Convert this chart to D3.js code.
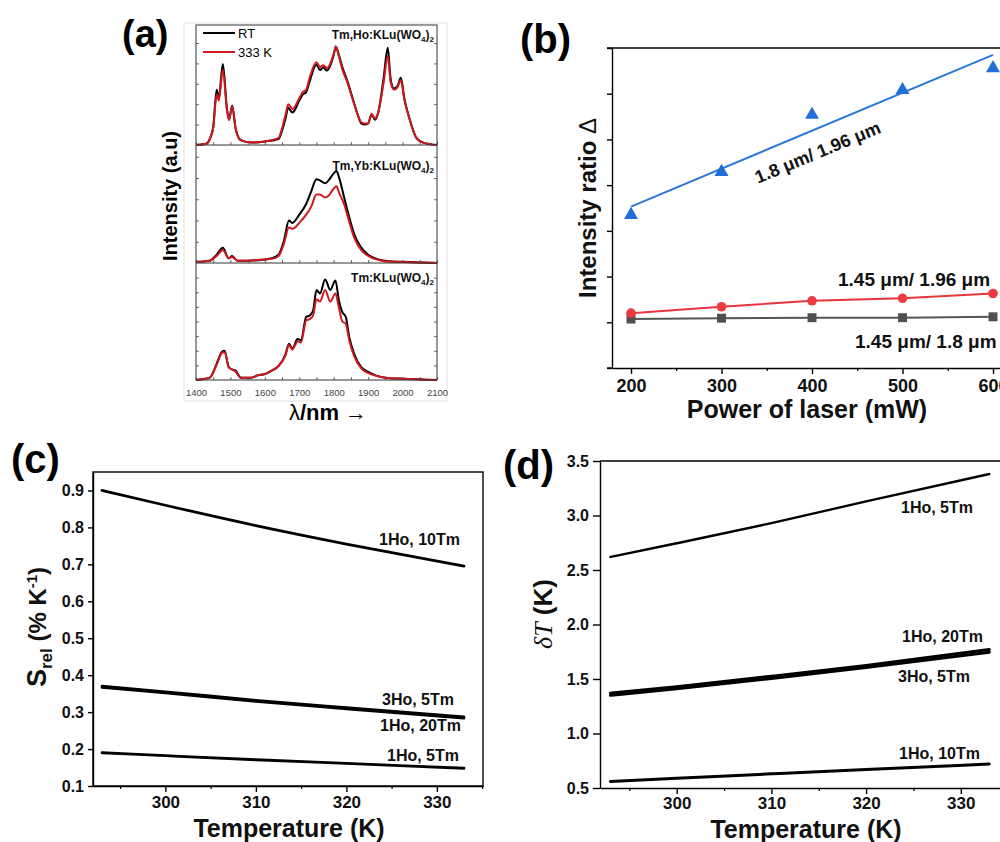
<!DOCTYPE html>
<html><head><meta charset="utf-8">
<script src="https://cdn.jsdelivr.net/npm/d3@7"></script>
<style>
body{margin:0;background:#fff}
svg{display:block}
text{font-family:"Liberation Sans",Arial,Helvetica,sans-serif}
</style>
</head><body>
<script>
// ---------------- DATA ----------------
// (a) emission spectra, normalised intensity per sub-panel
const wlHo = [1400,1430,1440,1450,1460,1466,1478,1490,1496,1505,1515,1530,1560,1600,1640,1650,1660,1668,1680,1700,1710,1720,1730,1750,1760,1770,1780,1800,1806,1815,1825,1840,1855,1870,1880,1890,1900,1910,1920,1930,1945,1957,1965,1975,1985,1995,2005,2020,2040,2060,2100];
const hoRT  = [0.0,0.01,0.05,0.15,0.46,0.39,0.675,0.30,0.21,0.33,0.14,0.04,0.02,0.03,0.05,0.12,0.22,0.31,0.27,0.37,0.42,0.44,0.53,0.67,0.625,0.645,0.62,0.75,0.82,0.75,0.65,0.53,0.39,0.25,0.18,0.17,0.18,0.25,0.21,0.28,0.56,0.81,0.56,0.47,0.49,0.56,0.39,0.22,0.06,0.02,0.0];
const ho333 = [0.0,0.01,0.05,0.14,0.42,0.37,0.625,0.29,0.21,0.32,0.14,0.04,0.02,0.03,0.06,0.14,0.25,0.34,0.30,0.39,0.44,0.46,0.56,0.69,0.65,0.665,0.64,0.76,0.82,0.74,0.63,0.52,0.38,0.25,0.19,0.18,0.18,0.26,0.22,0.28,0.52,0.74,0.53,0.46,0.48,0.54,0.38,0.22,0.06,0.02,0.0];

const wlYb = [1400,1440,1460,1478,1495,1505,1520,1550,1600,1620,1640,1655,1670,1680,1700,1720,1735,1750,1760,1775,1785,1800,1808,1815,1830,1845,1860,1880,1900,1930,1960,2000,2050,2100];
const ybRT  = [0.01,0.02,0.07,0.13,0.04,0.06,0.02,0.02,0.03,0.04,0.07,0.185,0.36,0.34,0.41,0.50,0.61,0.71,0.70,0.675,0.70,0.76,0.78,0.73,0.56,0.39,0.24,0.13,0.07,0.03,0.015,0.01,0.005,0.0];
const yb333 = [0.01,0.02,0.06,0.11,0.04,0.05,0.02,0.02,0.03,0.035,0.06,0.16,0.30,0.29,0.34,0.41,0.48,0.58,0.58,0.555,0.57,0.63,0.65,0.60,0.50,0.35,0.21,0.11,0.06,0.025,0.012,0.008,0.004,0.0];

const wlTm = [1400,1440,1460,1475,1483,1495,1505,1515,1530,1560,1580,1600,1620,1640,1660,1670,1680,1695,1705,1720,1730,1740,1750,1760,1775,1790,1805,1815,1825,1835,1845,1860,1880,1900,1950,2000,2100];
const tmRT  = [0,0.02,0.14,0.24,0.25,0.11,0.09,0.08,0.02,0.02,0.04,0.05,0.08,0.12,0.22,0.31,0.27,0.35,0.34,0.54,0.55,0.59,0.77,0.74,0.86,0.77,0.85,0.68,0.58,0.54,0.37,0.22,0.11,0.07,0.02,0.01,0];
const tm333 = [0,0.02,0.13,0.23,0.24,0.11,0.09,0.07,0.02,0.02,0.04,0.05,0.08,0.12,0.21,0.30,0.26,0.33,0.32,0.51,0.52,0.55,0.69,0.67,0.77,0.67,0.74,0.62,0.50,0.48,0.34,0.20,0.10,0.06,0.02,0.01,0];
const wlTicks = [1400,1500,1600,1700,1800,1900,2000,2100];

// (b) intensity ratio vs laser power
const power = [200,300,400,500,600];
const ratio18_196  = [3.35,4.29,5.54,6.08,6.56];
const fitPower = [200,600];
const fit18_196 = [3.53,6.85];
const ratio145_196 = [1.20,1.34,1.47,1.525,1.63];
const ratio145_18  = [1.07,1.09,1.10,1.10,1.12];
const powerTicks = [200,300,400,500,600];

// (c) relative sensitivity vs temperature
const temp = [293,300,310,320,333];
const s_1Ho10Tm = [0.90,0.86,0.805,0.755,0.695];
const s_3Ho5Tm  = [0.37,0.355,0.332,0.312,0.287];
const s_1Ho20Tm = [0.367,0.352,0.329,0.309,0.284];
const s_1Ho5Tm  = [0.19,0.182,0.171,0.161,0.148];
const sTicks = [0.1,0.2,0.3,0.4,0.5,0.6,0.7,0.8,0.9];
const tTicks = [300,310,320,330];

// (d) temperature resolution vs temperature
const dT_1Ho5Tm  = [2.62,2.745,2.93,3.13,3.38];
const dT_1Ho20Tm = [1.37,1.43,1.525,1.625,1.77];
const dT_3Ho5Tm  = [1.35,1.41,1.505,1.605,1.745];
const dT_1Ho10Tm = [0.56,0.59,0.63,0.67,0.72];
const dTicks = [0.5,1.0,1.5,2.0,2.5,3.0,3.5];

// ---------------- DRAW ----------------
const svg = d3.select("body").append("svg").attr("width",1000).attr("height",842);
const zip = (xs, ys) => xs.map((x,i)=>[x,ys[i]]);

function styleAxis(g, fs){
  g.select(".domain").attr("stroke","#000").attr("stroke-width",1.4);
  g.selectAll(".tick line").attr("stroke","#000").attr("stroke-width",1.4);
  g.selectAll(".tick text").attr("font-size",fs).attr("font-weight","bold").attr("fill","#111")
    .attr("font-family","'Liberation Sans',Arial,sans-serif");
}

// ===== Panel (a) =====
(function(){
  const x = d3.scaleLinear().domain([1400,2100]).range([196,437]);
  svg.append("rect").attr("x",184).attr("y",23).attr("width",263).attr("height",378)
    .attr("fill","none").attr("stroke","#e2e2e2").attr("stroke-width",1);
  const subs = [
    {top:25, bot:145, wl:wlHo, rt:hoRT, hot:ho333, ticks:[0.17,0.34,0.51,0.68,0.85], name:"Tm,Ho:KLu(WO", ly:39},
    {top:145, bot:263, wl:wlYb, rt:ybRT, hot:yb333, ticks:[0.18,0.36,0.54,0.72,0.90], name:"Tm,Yb:KLu(WO", ly:170},
    {top:263, bot:380, wl:wlTm, rt:tmRT, hot:tm333, ticks:[0.125,0.25,0.375,0.5,0.625,0.75,0.875], name:"Tm:KLu(WO", ly:282}
  ];
  subs.forEach(s=>{
    const y = d3.scaleLinear().domain([0,1]).range([s.bot,s.top]);
    const gl = svg.append("g").attr("transform","translate(196,0)")
      .call(d3.axisLeft(y).tickValues(s.ticks).tickSize(-3).tickFormat(""));
    gl.select(".domain").remove();
    gl.selectAll(".tick line").attr("stroke","#444").attr("stroke-width",0.8);
    const gr = svg.append("g").attr("transform","translate(437,0)")
      .call(d3.axisRight(y).tickValues(s.ticks).tickSize(-3).tickFormat(""));
    gr.select(".domain").remove();
    gr.selectAll(".tick line").attr("stroke","#444").attr("stroke-width",0.8);
    const gb = svg.append("g").attr("transform",`translate(0,${s.bot})`)
      .call(d3.axisBottom(x).ticks(14).tickSize(-3).tickFormat(""));
    gb.select(".domain").remove();
    gb.selectAll(".tick line").attr("stroke","#444").attr("stroke-width",0.8);
    const line = d3.line().x(d=>x(d[0])).y(d=>y(d[1])).curve(d3.curveMonotoneX);
    svg.append("path").datum(zip(s.wl,s.rt)).attr("d",line)
      .attr("fill","none").attr("stroke","#000").attr("stroke-width",2);
    svg.append("path").datum(zip(s.wl,s.hot)).attr("d",line)
      .attr("fill","none").attr("stroke","#d0181f").attr("stroke-width",2);
    const t = svg.append("text").attr("x",434).attr("y",s.ly).attr("text-anchor","end")
      .attr("font-size",12).attr("font-weight","bold").attr("fill","#111");
    t.append("tspan").text(s.name);
    t.append("tspan").attr("font-size",8).attr("dy",3).text("4");
    t.append("tspan").attr("dy",-3).text(")");
    t.append("tspan").attr("font-size",8).attr("dy",3).text("2");
  });
  svg.append("rect").attr("x",196).attr("y",25).attr("width",241).attr("height",355)
    .attr("fill","none").attr("stroke","#333").attr("stroke-width",1);
  svg.append("line").attr("x1",196).attr("x2",437).attr("y1",145).attr("y2",145).attr("stroke","#333");
  svg.append("line").attr("x1",196).attr("x2",437).attr("y1",263).attr("y2",263).attr("stroke","#333");
  const gx = svg.append("g").attr("transform","translate(0,380)")
    .call(d3.axisBottom(x).tickValues(wlTicks).tickSize(0).tickPadding(9).tickFormat(d3.format("d")));
  gx.select(".domain").remove();
  gx.selectAll(".tick text").attr("font-size",9.5).attr("fill","#444");
  svg.append("line").attr("x1",203).attr("x2",235).attr("y1",33).attr("y2",33).attr("stroke","#000").attr("stroke-width",2);
  svg.append("line").attr("x1",203).attr("x2",235).attr("y1",52).attr("y2",52).attr("stroke","#d0181f").attr("stroke-width",2);
  svg.append("text").attr("x",238).attr("y",38).attr("font-size",13).text("RT");
  svg.append("text").attr("x",238).attr("y",57).attr("font-size",13).text("333 K");
  svg.append("text").attr("transform","translate(177,196) rotate(-90)").attr("text-anchor","middle")
    .attr("font-size",20).attr("font-weight","bold").text("Intensity (a.u)");
  const xt = svg.append("text").attr("x",328).attr("y",420).attr("text-anchor","middle")
    .attr("font-size",22).attr("font-weight","bold");
  xt.append("tspan").attr("font-weight","normal").text("λ");
  xt.append("tspan").text("/nm ");
  xt.append("tspan").attr("font-weight","normal").text("→");
  svg.append("text").attr("x",122).attr("y",47).attr("font-size",38).attr("font-weight","bold").text("(a)");
})();

// ===== Panel (b) =====
(function(){
  const x = d3.scaleLinear().domain([179,640]).range([612,612+461*0.905]);
  const y = d3.scaleLinear().domain([0,7]).range([368,48]);
  const gy = svg.append("g").attr("transform","translate(612,0)")
    .call(d3.axisLeft(y).tickValues(d3.range(0,8)).tickSize(5).tickSizeOuter(0).tickFormat(""));
  styleAxis(gy,16);
  const gx = svg.append("g").attr("transform","translate(0,368)")
    .call(d3.axisBottom(x).tickValues(powerTicks).tickSize(6).tickSizeOuter(0).tickPadding(5));
  styleAxis(gx,18);
  const gm = svg.append("g").attr("transform","translate(0,368)")
    .call(d3.axisBottom(x).tickValues([250,350,450,550]).tickSize(3).tickSizeOuter(0).tickFormat(""));
  gm.select(".domain").remove();
  gm.selectAll(".tick line").attr("stroke","#000").attr("stroke-width",1.2);
  svg.append("line").attr("x1",607).attr("x2",1000).attr("y1",48).attr("y2",48).attr("stroke","#000").attr("stroke-width",1.4);
  svg.append("line").attr("x1",607).attr("x2",612).attr("y1",368).attr("y2",368).attr("stroke","#000").attr("stroke-width",1.4);

  const line = d3.line().x(d=>x(d[0])).y(d=>y(d[1]));
  svg.append("path").datum(zip(power,ratio145_18)).attr("d",line).attr("fill","none").attr("stroke","#555").attr("stroke-width",2);
  svg.selectAll(".sq").data(zip(power,ratio145_18)).join("path")
    .attr("transform",d=>`translate(${x(d[0])},${y(d[1])})`)
    .attr("d",d3.symbol(d3.symbolSquare).size(80)).attr("fill","#505050");
  svg.append("path").datum(zip(power,ratio145_196)).attr("d",line).attr("fill","none").attr("stroke","#e8353b").attr("stroke-width",2);
  svg.selectAll(".ci").data(zip(power,ratio145_196)).join("circle")
    .attr("cx",d=>x(d[0])).attr("cy",d=>y(d[1])).attr("r",4.8).attr("fill","#ec3a40");
  svg.append("path").datum(zip(fitPower,fit18_196)).attr("d",line).attr("fill","none").attr("stroke","#2a78da").attr("stroke-width",2);
  svg.selectAll(".tr").data(zip(power,ratio18_196)).join("path")
    .attr("transform",d=>`translate(${x(d[0])},${y(d[1])})`)
    .attr("d",d3.symbol(d3.symbolTriangle).size(85)).attr("fill","#1f6fd6");

  svg.append("text").attr("transform","translate(820,158) rotate(-22.5)").attr("text-anchor","middle")
    .attr("font-size",18).attr("font-weight","bold").attr("fill","#111").text("1.8 μm/ 1.96 μm");
  svg.append("text").attr("x",838).attr("y",286).attr("font-size",19).attr("font-weight","bold").attr("fill","#111").text("1.45 μm/ 1.96 μm");
  svg.append("text").attr("x",855).attr("y",348).attr("font-size",19).attr("font-weight","bold").attr("fill","#111").text("1.45 μm/ 1.8 μm");

  svg.append("text").attr("x",807).attr("y",418).attr("text-anchor","middle")
    .attr("font-size",25).attr("font-weight","bold").attr("fill","#111").text("Power of laser (mW)");
  const yt = svg.append("text").attr("transform","translate(596,208) rotate(-90)").attr("text-anchor","middle")
    .attr("font-size",24).attr("font-weight","bold").attr("fill","#111");
  yt.append("tspan").text("Intensity ratio  ");
  yt.append("tspan").attr("font-weight","normal").text("Δ");
  svg.append("text").attr("x",520).attr("y",53).attr("font-size",40).attr("font-weight","bold").text("(b)");
})();

// ===== Panel (c) =====
(function(){
  const x = d3.scaleLinear().domain([292,335.1]).range([93,483]);
  const y = d3.scaleLinear().domain([0.1,0.95]).range([786,472]);
  svg.append("rect").attr("x",93).attr("y",472).attr("width",390).attr("height",314)
    .attr("fill","none").attr("stroke","#000").attr("stroke-width",1.4);
  const gy = svg.append("g").attr("transform","translate(93,0)")
    .call(d3.axisLeft(y).tickValues(sTicks).tickSize(5).tickSizeOuter(0).tickPadding(4).tickFormat(d3.format(".1f")));
  styleAxis(gy,16);
  const gx = svg.append("g").attr("transform","translate(0,786)")
    .call(d3.axisBottom(x).tickValues(tTicks).tickSize(6).tickSizeOuter(0).tickPadding(4));
  styleAxis(gx,17);
  const gm = svg.append("g").attr("transform","translate(0,786)")
    .call(d3.axisBottom(x).tickValues([295,305,315,325,335]).tickSize(3).tickSizeOuter(0).tickFormat(""));
  gm.select(".domain").remove();
  gm.selectAll(".tick line").attr("stroke","#000").attr("stroke-width",1.2);
  const line = d3.line().x(d=>x(d[0])).y(d=>y(d[1])).curve(d3.curveMonotoneX);
  [s_1Ho10Tm,s_3Ho5Tm,s_1Ho20Tm,s_1Ho5Tm].forEach(s=>{
    svg.append("path").datum(zip(temp,s)).attr("d",line).attr("fill","none")
      .attr("stroke","#000").attr("stroke-width",2.8).attr("stroke-linecap","round");
  });
  const lab = [["1Ho, 10Tm",460,545],["3Ho, 5Tm",454,705],["1Ho, 20Tm",461,731],["1Ho, 5Tm",459,761]];
  lab.forEach(l=>svg.append("text").attr("x",l[1]).attr("y",l[2]).attr("text-anchor","end")
    .attr("font-size",16).attr("font-weight","bold").attr("fill","#111").text(l[0]));
  svg.append("text").attr("x",289).attr("y",837).attr("text-anchor","middle")
    .attr("font-size",25).attr("font-weight","bold").attr("fill","#111").text("Temperature (K)");
  const yt = svg.append("text").attr("transform","translate(46,627) rotate(-90)").attr("text-anchor","middle")
    .attr("font-size",24).attr("font-weight","bold").attr("fill","#111");
  yt.append("tspan").attr("font-size",27).text("S");
  yt.append("tspan").attr("font-size",17).attr("dy",6).text("rel");
  yt.append("tspan").attr("dy",-6).text("  (% K");
  yt.append("tspan").attr("font-size",15).attr("dy",-9).text("-1");
  yt.append("tspan").attr("dy",9).text(")");
  svg.append("text").attr("x",11).attr("y",473).attr("font-size",40).attr("font-weight","bold").text("(c)");
})();

// ===== Panel (d) =====
(function(){
  const x = d3.scaleLinear().domain([291.9,335]).range([600,600+43.1*9.47]);
  const y = d3.scaleLinear().domain([0.5,3.5]).range([788,461]);
  svg.append("line").attr("x1",600).attr("x2",1000).attr("y1",461).attr("y2",461).attr("stroke","#000").attr("stroke-width",1.4);
  const gy = svg.append("g").attr("transform","translate(600,0)")
    .call(d3.axisLeft(y).tickValues(dTicks).tickSize(7).tickSizeOuter(0).tickPadding(4).tickFormat(d3.format(".1f")));
  styleAxis(gy,16);
  const gx = svg.append("g").attr("transform","translate(0,788)")
    .call(d3.axisBottom(x).tickValues(tTicks).tickSize(6).tickSizeOuter(0).tickPadding(3));
  styleAxis(gx,17);
  const gm = svg.append("g").attr("transform","translate(0,788)")
    .call(d3.axisBottom(x).tickValues([295,305,315,325,335]).tickSize(3).tickSizeOuter(0).tickFormat(""));
  gm.select(".domain").remove();
  gm.selectAll(".tick line").attr("stroke","#000").attr("stroke-width",1.2);
  const line = d3.line().x(d=>x(d[0])).y(d=>y(d[1])).curve(d3.curveMonotoneX);
  [[dT_1Ho5Tm,2.4],[dT_1Ho20Tm,3],[dT_3Ho5Tm,3],[dT_1Ho10Tm,3]].forEach(s=>{
    svg.append("path").datum(zip(temp,s[0])).attr("d",line).attr("fill","none")
      .attr("stroke","#000").attr("stroke-width",s[1]).attr("stroke-linecap","round");
  });
  const lab = [["1Ho, 5Tm",973,513],["1Ho, 20Tm",983,642],["3Ho, 5Tm",970,682],["1Ho, 10Tm",980,759]];
  lab.forEach(l=>svg.append("text").attr("x",l[1]).attr("y",l[2]).attr("text-anchor","end")
    .attr("font-size",16).attr("font-weight","bold").attr("fill","#111").text(l[0]));
  svg.append("text").attr("x",806).attr("y",838).attr("text-anchor","middle")
    .attr("font-size",25).attr("font-weight","bold").attr("fill","#111").text("Temperature (K)");
  const yt = svg.append("text").attr("transform","translate(552,614) rotate(-90)").attr("text-anchor","middle")
    .attr("font-size",26).attr("fill","#111");
  yt.append("tspan").attr("font-family","'Liberation Serif','Times New Roman',serif").attr("font-style","italic").text("δT");
  yt.append("tspan").attr("font-weight","bold").text(" (K)");
  svg.append("text").attr("x",503).attr("y",479).attr("font-size",40).attr("font-weight","bold").text("(d)");
})();
</script>
</body></html>
